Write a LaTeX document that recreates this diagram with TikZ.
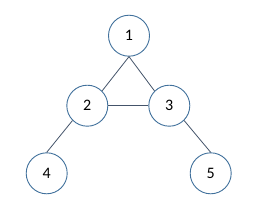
\documentclass[tikz,border=0pt]{standalone}
\usepackage{fontspec}
\setmainfont{Carlito}
\definecolor{ring}{HTML}{41719C}
\definecolor{edge}{HTML}{44546A}
\begin{document}
\begin{tikzpicture}[x=1pt,y=1pt,
  vert/.style={circle,draw=ring,line width=0.9pt,fill=white,minimum size=41pt,inner sep=0pt,font=\fontsize{16}{16}\selectfont},
  link/.style={draw=edge,line width=0.8pt}]
\useasboundingbox (0,0) rectangle (259,218);
\node[vert] (n1) at (129,182.3) {1};
\node[vert] (n2) at (87.3,112.3) {2};
\node[vert] (n3) at (169.3,112.3) {3};
\node[vert] (n4) at (46.7,44.7) {4};
\node[vert] (n5) at (210.7,44.7) {5};
\draw[link] (n1.south) -- (n2.north east);
\draw[link] (n1.south) -- (n3.north west);
\draw[link] (n2.east) -- (n3.west);
\draw[link] (n2.south west) -- (n4.north);
\draw[link] (n3.south east) -- (n5.north);
\end{tikzpicture}
\end{document}
